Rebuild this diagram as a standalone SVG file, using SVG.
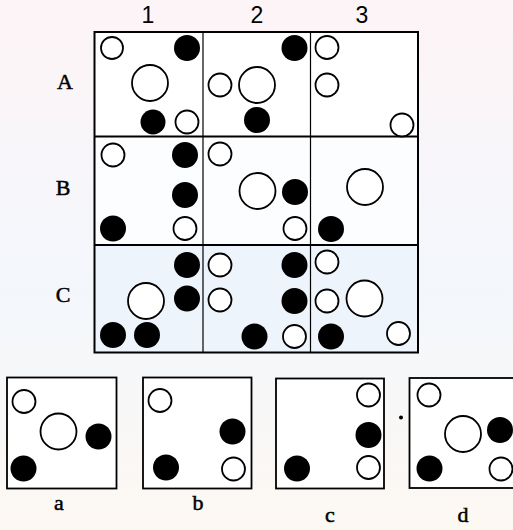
<svg xmlns="http://www.w3.org/2000/svg" width="513" height="530" viewBox="0 0 513 530">
<defs>
<style>
.o{fill:#fff;stroke:#000;stroke-width:1.8}
.b{fill:#000}
.box{fill:#fff;stroke:#000;stroke-width:1.8}
.div{stroke:#000;stroke-width:1.2;fill:none}
.lbl{font-family:"Liberation Serif",serif;font-size:22px;fill:#000;stroke:#000;stroke-width:0.5;text-anchor:middle}
.num{font-family:"Liberation Sans",sans-serif;font-size:23px;fill:#000;text-anchor:middle}
</style>
<linearGradient id="bg" x1="0" y1="0" x2="0" y2="1">
<stop offset="0" stop-color="#fdf4f6"/>
<stop offset="0.55" stop-color="#f3f7fc"/>
<stop offset="1" stop-color="#fdf8f2"/>
</linearGradient>
</defs>
<rect width="513" height="530" fill="#fff"/>
<rect x="0" y="0" width="513" height="530" fill="url(#bg)"/>
<g id="labels">
<text class="num" x="148" y="23">1</text>
<text class="num" x="257" y="23">2</text>
<text class="num" x="362" y="23">3</text>
<text class="lbl" x="65" y="89">A</text>
<text class="lbl" x="63" y="195">B</text>
<text class="lbl" x="63" y="302">C</text>
</g>
<g id="grid">
<rect x="94.5" y="32" width="323.5" height="104.5" fill="#fff"/>
<rect x="94.5" y="136.5" width="323.5" height="108.5" fill="#fcfdff"/>
<rect x="94.5" y="245" width="323.5" height="107.5" fill="#eef4fb"/>
<rect x="94.5" y="32" width="323.5" height="320.5" fill="none" stroke="#000" stroke-width="2"/>
<line class="div" x1="203" y1="32" x2="203" y2="352.5"/>
<line class="div" x1="310.5" y1="32" x2="310.5" y2="352.5"/>
<line x1="94.5" y1="136.5" x2="418" y2="136.5" stroke="#000" stroke-width="2"/>
<line x1="94.5" y1="245" x2="418" y2="245" stroke="#000" stroke-width="2"/>
</g>
<g id="A1">
<circle class="o" cx="112" cy="48" r="11"/>
<circle class="b" cx="187" cy="48" r="13"/>
<circle class="o" cx="150" cy="83" r="18"/>
<circle class="b" cx="153" cy="122" r="12.5"/>
<circle class="o" cx="187" cy="122" r="11.5"/>
</g>
<g id="A2">
<circle class="b" cx="294.5" cy="48" r="13"/>
<circle class="o" cx="220" cy="85" r="11.5"/>
<circle class="o" cx="257" cy="85" r="18"/>
<circle class="b" cx="257" cy="120" r="13"/>
</g>
<g id="A3">
<circle class="o" cx="327" cy="47.5" r="11.5"/>
<circle class="o" cx="327" cy="85" r="11.5"/>
<circle class="o" cx="402" cy="125" r="11.5"/>
</g>
<g id="B1">
<circle class="o" cx="113" cy="155" r="11.5"/>
<circle class="b" cx="185" cy="155" r="13"/>
<circle class="b" cx="185" cy="195" r="13"/>
<circle class="b" cx="113" cy="228.5" r="13"/>
<circle class="o" cx="185" cy="228.5" r="11.5"/>
</g>
<g id="B2">
<circle class="o" cx="220" cy="154" r="11.5"/>
<circle class="o" cx="257.5" cy="191" r="18"/>
<circle class="b" cx="295" cy="192" r="13"/>
<circle class="o" cx="295" cy="228.5" r="11.5"/>
</g>
<g id="B3">
<circle class="o" cx="365" cy="187" r="18"/>
<circle class="b" cx="331" cy="229" r="13"/>
</g>
<g id="C1">
<circle class="b" cx="187" cy="265" r="13"/>
<circle class="o" cx="146" cy="301" r="18"/>
<circle class="b" cx="187" cy="298.5" r="13"/>
<circle class="b" cx="113" cy="335" r="13"/>
<circle class="b" cx="147" cy="335" r="13"/>
</g>
<g id="C2">
<circle class="o" cx="220" cy="265" r="11.5"/>
<circle class="b" cx="294.5" cy="265" r="13"/>
<circle class="o" cx="220" cy="300" r="11.5"/>
<circle class="b" cx="294.5" cy="301" r="13"/>
<circle class="b" cx="254.5" cy="336.5" r="13"/>
<circle class="o" cx="294.5" cy="336.5" r="11.5"/>
</g>
<g id="C3">
<circle class="o" cx="327" cy="262" r="11.5"/>
<circle class="o" cx="327" cy="301" r="11.5"/>
<circle class="o" cx="364.5" cy="298.5" r="18"/>
<circle class="b" cx="331" cy="336.5" r="13"/>
<circle class="o" cx="398.5" cy="333.5" r="11.5"/>
</g>
<g id="optA">
<rect class="box" x="7" y="377.5" width="109.5" height="111"/>
<circle class="o" cx="24" cy="401.5" r="11.5"/>
<circle class="o" cx="58.5" cy="431.5" r="18"/>
<circle class="b" cx="98.5" cy="436.5" r="13"/>
<circle class="b" cx="23.5" cy="468.5" r="13"/>
<text class="lbl" x="59" y="510">a</text>
</g>
<g id="optB">
<rect class="box" x="143" y="377.5" width="108.5" height="111"/>
<circle class="o" cx="160" cy="400.5" r="11.5"/>
<circle class="b" cx="232.5" cy="431.5" r="13"/>
<circle class="b" cx="166" cy="467.5" r="13"/>
<circle class="o" cx="233.5" cy="469" r="11.5"/>
<text class="lbl" x="198" y="510">b</text>
</g>
<g id="optC">
<rect class="box" x="276" y="378.5" width="108" height="110"/>
<circle class="o" cx="368.5" cy="395" r="11.5"/>
<circle class="b" cx="368.5" cy="435" r="13"/>
<circle class="o" cx="368.5" cy="467.5" r="11.5"/>
<circle class="b" cx="297" cy="468.5" r="13"/>
<text class="lbl" x="330" y="522">c</text>
</g>
<circle class="b" cx="401" cy="417.5" r="2"/>
<g id="optD">
<rect class="box" x="409.5" y="378" width="110" height="110"/>
<circle class="o" cx="429" cy="395" r="11.5"/>
<circle class="o" cx="463" cy="434" r="18"/>
<circle class="b" cx="500" cy="430" r="13"/>
<circle class="b" cx="429.5" cy="468.5" r="13"/>
<circle class="o" cx="501" cy="469" r="11.5"/>
<text class="lbl" x="463" y="522">d</text>
</g>
</svg>
